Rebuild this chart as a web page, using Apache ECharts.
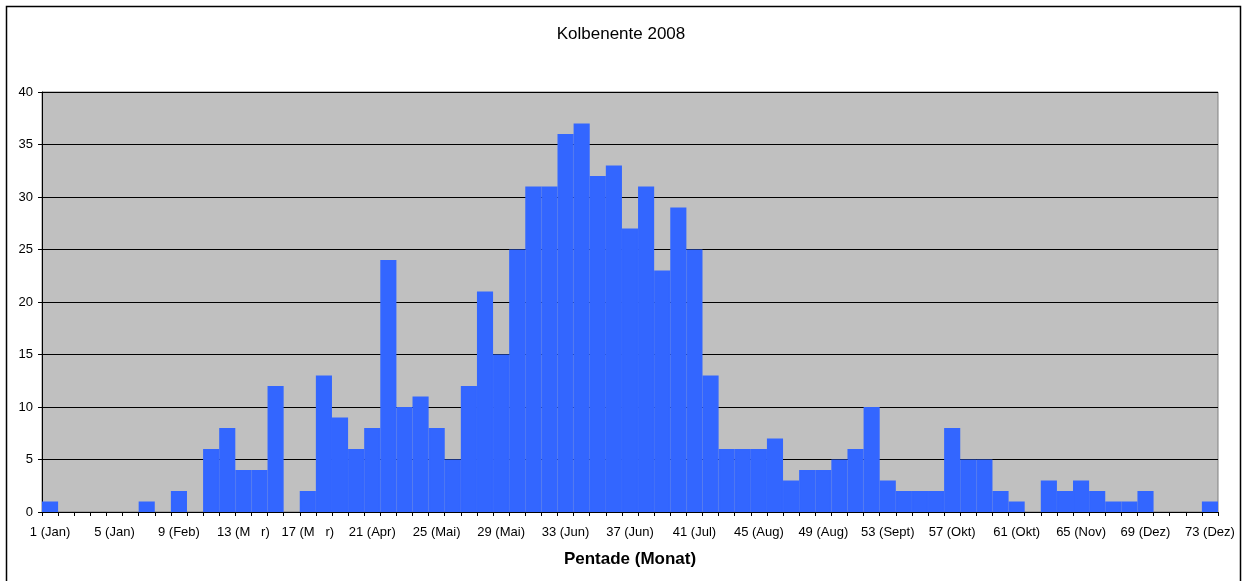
<!DOCTYPE html>
<html>
<head>
<meta charset="utf-8">
<script src="https://cdn.jsdelivr.net/npm/echarts@6/dist/echarts.min.js"></script>
<style>
html, body { margin: 0; padding: 0; background: #fff; }
#box { width: 1242px; height: 581px; }
</style>
</head>
<body>
<div id="box"></div>
<script>
// Pentaden 1..73
const aPentade = [];
for (let i = 1; i <= 73; i++) aPentade.push(String(i));

// Beschriftung jeder 4. Pentade
const aTickLabels = ['1 (Jan)', '5 (Jan)', '9 (Feb)', '13 (M   r)', '17 (M   r)', '21 (Apr)', '25 (Mai)',
    '29 (Mai)', '33 (Jun)', '37 (Jun)', '41 (Jul)', '45 (Aug)', '49 (Aug)', '53 (Sept)', '57 (Okt)',
    '61 (Okt)', '65 (Nov)', '69 (Dez)', '73 (Dez)'];

// Anzahl Kolbenenten je Pentade
const aWerte = [
    1, 0, 0, 0, 0, 0, 1, 0, 2, 0,        // 1-10
    6, 8, 4, 4, 12, 0, 2, 13, 9, 6,      // 11-20
    8, 24, 10, 11, 8, 5, 12, 21, 15, 25, // 21-30
    31, 31, 36, 37, 32, 33, 27, 31, 23, 29, // 31-40
    25, 13, 6, 6, 6, 7, 3, 4, 4, 5,      // 41-50
    6, 10, 3, 2, 2, 2, 8, 5, 5, 2,       // 51-60
    1, 0, 3, 2, 3, 2, 1, 1, 2, 0,        // 61-70
    0, 0, 1                              // 71-73
];

const sFont = '"Liberation Sans", Arial, sans-serif';
const myChart = echarts.init(document.getElementById('box'));

const option = {
    animation: false,
    backgroundColor: '#ffffff',
    title: {
        text: 'Kolbenente 2008',
        left: 'center',
        top: 21,
        textStyle: { fontFamily: sFont, fontSize: 17, fontWeight: 'normal', color: '#000' }
    },
    graphic: [{
        type: 'rect',
        shape: { x: 6.5, y: 6.5, width: 1234, height: 600 },
        style: { fill: 'none', stroke: '#000', lineWidth: 1.5 },
        silent: true
    }],
    grid: {
        left: 42, top: 92, right: 24, height: 420,
        show: true,
        backgroundColor: '#c0c0c0',
        borderColor: '#808080',
        borderWidth: 1
    },
    xAxis: {
        type: 'category',
        data: aPentade,
        boundaryGap: true,
        z: 20,
        name: 'Pentade (Monat)',
        nameLocation: 'middle',
        nameGap: 39,
        nameTextStyle: { fontFamily: sFont, fontSize: 17, fontWeight: 'bold', color: '#000' },
        axisLine: { lineStyle: { color: '#000', width: 1 } },
        axisTick: { show: true, interval: 0, length: 4, lineStyle: { color: '#000' } },
        axisLabel: {
            interval: 3,
            margin: 14,
            fontFamily: sFont,
            fontSize: 13,
            color: '#000',
            formatter: (val, idx) => aTickLabels[idx / 4] || ''
        },
        splitLine: { show: false },
        splitArea: { show: false }
    },
    yAxis: {
        type: 'value',
        min: 0,
        max: 40,
        interval: 5,
        z: 1,
        axisLine: { show: true, lineStyle: { color: '#000', width: 1 } },
        axisTick: { show: true, length: 4, lineStyle: { color: '#000' } },
        axisLabel: { fontFamily: sFont, fontSize: 13, color: '#000', margin: 9 },
        splitLine: { show: true, lineStyle: { color: '#000', width: 1 } }
    },
    series: [{
        type: 'bar',
        z: 10,
        // 0 -> kein Balken, sonst bleibt ein Randstrich auf der Achse
        data: aWerte.map(v => v === 0 ? '-' : v),
        barCategoryGap: 0,
        itemStyle: { color: '#3366ff', borderColor: '#3366ff', borderWidth: 1.5 },
        silent: true
    }]
};
myChart.setOption(option);
</script>
</body>
</html>
